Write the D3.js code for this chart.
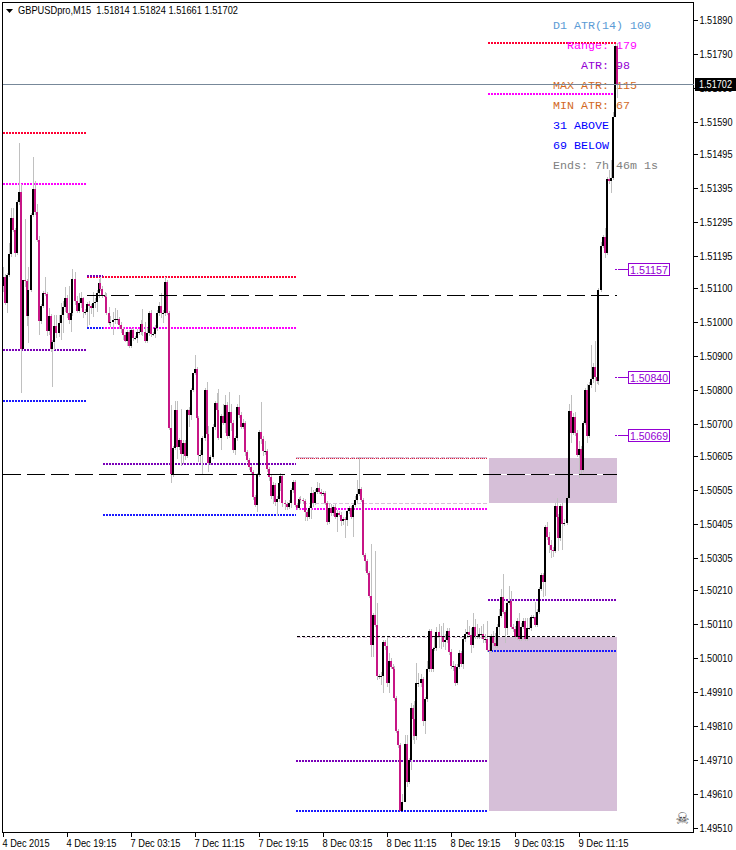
<!DOCTYPE html>
<html><head><meta charset="utf-8">
<script src="https://cdnjs.cloudflare.com/ajax/libs/d3/7.8.5/d3.min.js"></script>
<style>html,body{margin:0;padding:0;background:#fff;overflow:hidden}svg{display:block}</style>
</head><body><div id="c"></div>
<script>
// All prices are in points (1 point = 0.00001)
const firstOpen = 151107;
const closes = [
151134,151057,151140,151202,151308,151272,151204,151355,151384,150922,
151125,151122,151019,151095,151316,151393,151325,151243,151004,151048,
151087,151084,150975,151019,150922,150942,150989,150969,150998,151022,
151045,151072,151028,151007,151028,151128,151063,151034,151057,151072,
151031,151031,151054,151048,151042,151057,151060,151087,151116,151098,
151078,151075,151028,150998,151001,151007,151010,151010,150992,150981,
150963,150945,150972,150930,150978,150954,150954,150972,150972,150995,
150972,150945,150969,151028,150966,150966,150984,151028,151048,151028,
151028,151119,151028,150689,150553,150630,150742,150633,150654,150612,
150645,150606,150742,150727,150801,150851,150863,150718,150609,150609,
150659,150801,150671,150586,150603,150692,150762,150742,150659,150724,
150704,150757,150665,150736,150704,150624,150659,150751,150727,150692,
150704,150618,150595,150574,150559,150486,150462,150550,150677,150656,
150621,150621,150568,150544,150488,150521,150471,150480,150527,150547,
150468,150465,150456,150468,150506,150530,150462,150453,150480,150477,
150474,150441,150427,150453,150497,150468,150500,150512,150500,150494,
150497,150468,150412,150453,150438,150456,150427,150438,150432,150415,
150421,150418,150444,150453,150427,150462,150477,150494,150509,150477,
150315,150297,150261,150194,150049,150138,150108,149958,149958,149958,
150058,150046,149937,150002,149985,149979,149893,149796,149755,149560,
149587,149758,149646,149710,149864,149831,149781,149937,149937,149949,
149825,149890,149979,150091,149979,150038,150040,150088,150076,150073,
150058,150064,150091,150029,149988,149988,149937,149985,150026,149993,
150067,150082,150088,150079,150049,150102,150076,150076,150082,150082,
150067,150067,150035,150032,150076,150055,150046,150102,150135,150191,
150147,150100,150173,150179,150102,150096,150073,150120,150067,150102,
150120,150067,150100,150100,150132,150132,150108,150147,150214,150256,
150235,150397,150368,150344,150329,150326,150459,150427,150365,150459,
150406,150409,150483,150739,150674,150721,150674,150609,150627,150565,
150704,150801,150665,150816,150833,150869,150839,150827,151095,151225,
151252,151204,151422,151417,151425,151605,151814,151702];
// Upper wick length above the body, lower wick length below it (points)
const wickUp = [
30,9,6,33,30,30,6,6,144,24,
0,180,6,69,6,93,24,24,12,6,
6,48,6,24,6,6,33,33,24,36,
18,33,9,78,12,30,21,15,30,18,
3,9,6,9,6,33,12,9,12,18,
9,12,12,18,18,24,33,27,6,9,
6,9,6,6,6,6,6,9,9,12,
45,30,15,6,9,6,9,9,12,39,
9,15,6,6,66,6,27,27,6,90,
9,9,3,9,6,0,42,6,6,15,
6,6,24,24,6,9,6,30,63,6,
36,30,9,60,24,9,6,9,36,9,
12,6,6,6,6,6,6,6,6,87,
9,30,6,6,9,9,6,9,9,9,
6,9,6,9,6,6,6,6,6,9,
6,6,6,6,18,9,9,18,15,9,
6,6,6,15,12,6,9,9,6,9,
6,6,6,6,6,6,12,42,93,6,
6,6,6,6,153,6,189,66,6,12,
6,6,30,24,9,9,9,6,6,6,
24,27,27,6,15,9,54,60,30,15,
6,6,24,6,6,6,36,15,24,30,
42,18,9,9,9,15,6,9,9,6,
9,15,36,18,21,42,24,36,18,24,
30,15,54,18,6,15,30,9,21,24,
66,6,6,45,30,9,9,9,24,12,
9,9,30,30,6,6,45,9,6,6,
6,6,15,15,15,9,9,24,9,6,
9,12,6,21,48,12,15,9,24,9,
6,6,18,9,99,12,75,24,6,12,
6,27,6,27,54,15,6,9];
const wickDown = [
18,6,30,6,9,6,12,6,9,129,
0,18,30,81,6,6,9,6,42,9,
6,6,15,12,9,114,24,15,12,51,
54,15,15,12,36,9,12,6,6,15,
18,9,45,57,18,27,15,30,15,6,
6,9,6,6,12,39,12,15,12,12,
15,3,15,6,6,9,6,15,9,9,
12,6,6,9,9,6,12,9,9,15,
30,9,6,6,27,9,6,36,9,36,
30,12,6,36,15,6,6,9,21,24,
60,9,6,27,6,6,9,15,6,36,
6,30,9,6,24,9,15,9,9,6,
6,12,6,9,6,9,6,21,6,15,
15,12,9,12,9,24,12,42,9,24,
12,18,9,6,15,9,6,6,6,9,
9,27,12,6,33,12,6,6,6,6,
6,6,9,6,9,9,6,45,6,15,
12,54,18,9,6,60,6,9,6,6,
6,30,6,6,36,36,6,12,9,27,
51,12,12,30,6,6,9,6,9,0,
0,0,15,6,30,63,24,12,12,12,
15,39,9,9,9,9,6,9,36,36,
15,24,9,9,9,15,9,6,6,9,
15,9,12,6,24,9,9,9,9,15,
12,12,6,9,6,9,6,6,24,6,
6,45,21,6,6,9,6,9,6,6,
6,6,6,6,9,6,6,6,6,6,
45,42,9,24,24,18,6,12,39,9,
78,6,6,6,30,6,9,6,69,12,
6,6,21,6,9,12,45,9,12,6,
6,15,6,9,36,6,0,42];

const yAxisTicks = [151890,151790,151690,151590,151495,151395,151295,151195,151100,151000,150900,150800,150700,150605,150505,150405,150305,150210,150110,150010,149910,149810,149710,149610,149510];
const timeTickBars = [0,32,64,96,128,160,192,224,256,288];
const timeTickLabels = ["4 Dec 2015","4 Dec 19:15","7 Dec 03:15","7 Dec 11:15","7 Dec 19:15","8 Dec 03:15","8 Dec 11:15","8 Dec 19:15","9 Dec 03:15","9 Dec 11:15"];
const bidPrice = 151702;
const titleText = "GBPUSDpro,M15  1.51814 1.51824 1.51661 1.51702";

// Daily levels: [from bar, to bar, price]
const redLevels = [[0,42,151558],[42,146.5,151134],[242.5,307,151823]];
const magentaLevels = [[0,42,151408],[42,146.5,150983],[146.5,242,150450],[242.5,307,151673]];
const purpleLevels = [[0,42,150919],[42,50,151137],[50,146.5,150583],[146.5,242,149708],[242.5,307,150182]];
const blueLevels = [[0,42,150768],[42,50,150983],[50,146.5,150432],[146.5,242,149560],[242.5,307,150032]];
const thinRedLevels = [[146.5,242,150600]];
const longDashLevels = [[42,307,151081],[0,307,150553]];
const whiteGapLevels = [[243,307,150553]];
const shortDashLevels = [[147,307,150077]];
const paleDashLevels = [[147,243,150468],[147,243,150073],[147,243,150603]];
const zones = [[243,307,150600,150468],[243,307,150073,149560]];
const sideLabels = [151157,150840,150669];
const atrLines = [
 ["D1 ATR(14) 100","#5b9bd5"],["  Range: 179","#ff00ff"],["    ATR: 98","#9400d3"],
 ["MAX ATR: 115","#d2691e"],["MIN ATR: 67","#d2691e"],["31 ABOVE","#0000ff"],["69 BELOW","#0000ff"],["Ends: 7h 46m 1s","#808080"]];

const W=736,H=850,L=2.5,T=2.5,R=693.5,B=832.5;
const bars=closes.map((c,i)=>{const o=i?closes[i-1]:firstOpen;return{i,o,c,h:Math.max(o,c)+wickUp[i],l:Math.min(o,c)-wickDown[i]};});
const x=d3.scaleLinear().domain([0,307]).range([3,617]);
const y=d3.scaleLinear().domain([151890,149510]).range([20.3,828]);
const svg=d3.select("#c").append("svg").attr("width",W).attr("height",H);
svg.append("rect").attr("width",W).attr("height",H).attr("fill","#fff");
const FONT="'Liberation Sans',Arial,sans-serif",MONO="'Liberation Mono',monospace";
const crisp=s=>s.attr("shape-rendering","crispEdges");

// zones
crisp(svg.append("g").selectAll("rect").data(zones).join("rect")
 .attr("x",d=>x(d[0])).attr("width",d=>x(d[1])-x(d[0]))
 .attr("y",d=>y(d[2])).attr("height",d=>y(d[3])-y(d[2])).attr("fill","#d6bfd8"));
function hlines(data,color,width,dash){
 return crisp(svg.append("g").selectAll("line").data(data).join("line")
  .attr("x1",d=>x(d[0])).attr("x2",d=>x(d[1]))
  .attr("y1",d=>Math.round(y(d[2]))+(width%2?0.5:0)).attr("y2",d=>Math.round(y(d[2]))+(width%2?0.5:0))
  .attr("stroke",color).attr("stroke-width",width).attr("stroke-dasharray",dash));
}
hlines(whiteGapLevels,"#fff",1,null);
hlines(paleDashLevels,"#d8bfd8",1,"4 2");
hlines(thinRedLevels,"#d8bfd8",2,"3 2");
hlines(thinRedLevels,"#e0203a",1,"1 1");
hlines(redLevels,"#ff0033",2,"2 1");
hlines(magentaLevels,"#ff00ff",2,"2 1");
hlines(purpleLevels,"#7a00b8",2,"2 1");
hlines(blueLevels,"#1a1aff",2,"2 1");

// ATR text
svg.append("g").selectAll("text").data(atrLines).join("text")
 .attr("x",553).attr("y",(d,i)=>29+i*20).attr("xml:space","preserve")
 .style("white-space","pre")
 .attr("font-family",MONO).attr("font-size",11.67).attr("fill",d=>d[1]).text(d=>d[0]);

// candles
crisp(svg.append("g").selectAll("line").data(bars).join("line")
 .attr("x1",d=>Math.floor(x(d.i))+0.5).attr("x2",d=>Math.floor(x(d.i))+0.5)
 .attr("y1",d=>y(d.h)).attr("y2",d=>y(d.l)).attr("stroke","#c0c0c0").attr("stroke-width",1));
crisp(svg.append("g").selectAll("rect").data(bars).join("rect")
 .attr("x",d=>Math.floor(x(d.i))-1).attr("width",2)
 .attr("y",d=>Math.round(y(Math.max(d.o,d.c))))
 .attr("height",d=>Math.max(1,Math.round(Math.abs(y(d.o)-y(d.c)))))
 .attr("fill",d=>d.c>=d.o?"#000":"#c71585"));

hlines(shortDashLevels,"#000",1,"3 2");
hlines(longDashLevels,"#000",1,"18 6");

// frame
crisp(svg.append("rect").attr("x",L).attr("y",T).attr("width",R-L).attr("height",B-T)
 .attr("fill","none").attr("stroke","#000"));

// axes
const yG=svg.append("g").attr("transform",`translate(${R},0)`)
 .call(d3.axisRight(y).tickValues(yAxisTicks).tickSize(4).tickPadding(2).tickFormat(d=>(d/1e5).toFixed(5)));
yG.select(".domain").remove();
yG.selectAll("line").attr("stroke","#000").attr("shape-rendering","crispEdges");
yG.selectAll("text").attr("font-family",FONT).attr("font-size",10.5).attr("fill","#000").attr("textLength",33).attr("lengthAdjust","spacingAndGlyphs");
const xG=svg.append("g").attr("transform",`translate(0,${B})`)
 .call(d3.axisBottom(x).tickValues(timeTickBars).tickSize(4).tickPadding(3).tickFormat((d,i)=>timeTickLabels[i]));
xG.select(".domain").remove();
xG.selectAll("line").attr("stroke","#000").attr("shape-rendering","crispEdges");
xG.selectAll("text").attr("text-anchor","start").attr("dx",-1).attr("font-family",FONT).attr("font-size",10.5).attr("fill","#000").attr("textLength",(d,i)=>i?50:47).attr("lengthAdjust","spacingAndGlyphs");

// bid line and tag
crisp(svg.append("line").attr("x1",L).attr("x2",R).attr("y1",Math.round(y(bidPrice))+0.5).attr("y2",Math.round(y(bidPrice))+0.5).attr("stroke","#778899"));
const by=Math.round(y(bidPrice));
crisp(svg.append("rect").attr("x",R+1).attr("y",by-6).attr("width",W-R-1).attr("height",13).attr("fill","#000"));
svg.append("text").attr("x",699).attr("y",by+4).attr("font-family",FONT).attr("font-size",10.5).attr("fill","#fff").attr("textLength",33).attr("lengthAdjust","spacingAndGlyphs").text((bidPrice/1e5).toFixed(5));

// side labels
const sl=svg.append("g").selectAll("g").data(sideLabels).join("g").attr("transform",d=>`translate(0,${Math.round(y(d))+0.5})`);
crisp(sl.append("line").attr("x1",615).attr("x2",620).attr("stroke","#9400d3").attr("stroke-dasharray","2 1"));
crisp(sl.append("line").attr("x1",620).attr("x2",628).attr("stroke","#9400d3"));
crisp(sl.append("rect").attr("x",628.5).attr("y",-6).attr("width",41).attr("height",12).attr("fill","#fff").attr("stroke","#9400d3"));
sl.append("text").attr("x",630).attr("y",4).attr("font-family",FONT).attr("font-size",11.5).attr("fill","#9400d3").attr("textLength",38).attr("lengthAdjust","spacingAndGlyphs").text(d=>(d/1e5).toFixed(5));

// title
svg.append("path").attr("d","M6,9H13L9.5,13Z").attr("fill","#000");
svg.append("text").attr("x",18).attr("y",14).attr("xml:space","preserve").style("white-space","pre")
 .attr("font-family",FONT).attr("font-size",10.5).attr("fill","#000").attr("textLength",220).attr("lengthAdjust","spacingAndGlyphs").text(titleText);
// skull
svg.append("text").attr("x",682.5).attr("y",824).attr("text-anchor","middle").attr("font-family","'DejaVu Sans'").attr("font-size",16).attr("fill","#444").text("\u2620");
</script></body></html>
